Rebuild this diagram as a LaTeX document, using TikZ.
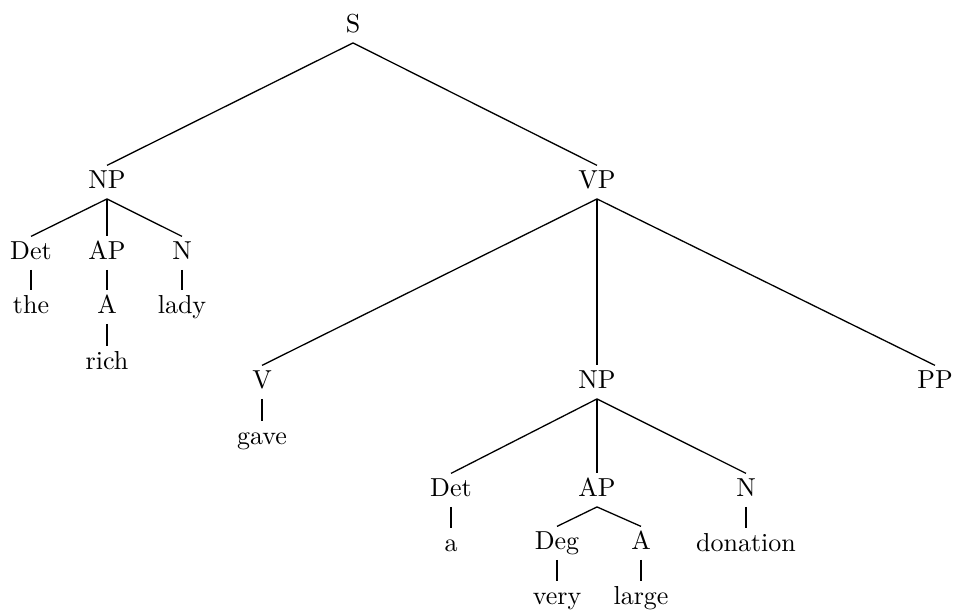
\documentclass[tikz,border=0pt]{standalone}
\begin{document}
\begin{tikzpicture}[x=0.3846pt, y=-0.3846pt,
  cat/.style={anchor=base, inner sep=2pt, outer sep=0pt, text height=6.7pt, text depth=2.2pt},
  branch/.style={draw, line width=0.5pt}]
\useasboundingbox (0,0) rectangle (953,610);
% root and first level
\node[cat] (S)   at (353,32)  {S};
\node[cat] (NP)  at (107,188) {NP};
\node[cat] (VP)  at (597,188) {VP};
% subject noun phrase
\node[cat] (Det) at (31,259)  {Det};
\node[cat] (AP)  at (107,259) {AP};
\node[cat] (N)   at (182,259) {N};
\node[cat] (the) at (31,313)  {the};
\node[cat] (A)   at (107,313) {A};
\node[cat] (lady) at (182,313) {lady};
\node[cat] (rich) at (107,369) {rich};
% verb phrase
\node[cat] (V)   at (262,388) {V};
\node[cat] (NPb) at (597,388) {NP};
\node[cat] (PP)  at (935,388) {PP};
\node[cat] (gave) at (262,444) {gave};
% object noun phrase
\node[cat] (Detb) at (451,496) {Det};
\node[cat] (APb)  at (597,496) {AP};
\node[cat] (Nb)   at (746,496) {N};
\node[cat] (a)    at (451,551) {a};
\node[cat] (Deg)  at (557,549) {Deg};
\node[cat] (Ab)   at (641,549) {A};
\node[cat] (donation) at (746,551) {donation};
\node[cat] (very)  at (557,604) {very};
\node[cat] (large) at (641,604) {large};
% branches
\foreach \p/\c in {S/NP, S/VP, NP/Det, NP/AP, NP/N, Det/the, AP/A, N/lady, A/rich,
                   VP/V, VP/NPb, VP/PP, V/gave, NPb/Detb, NPb/APb, NPb/Nb,
                   Detb/a, APb/Deg, APb/Ab, Nb/donation, Deg/very, Ab/large}
  \path[branch] (\p.south) -- (\c.north);
\end{tikzpicture}
\end{document}
